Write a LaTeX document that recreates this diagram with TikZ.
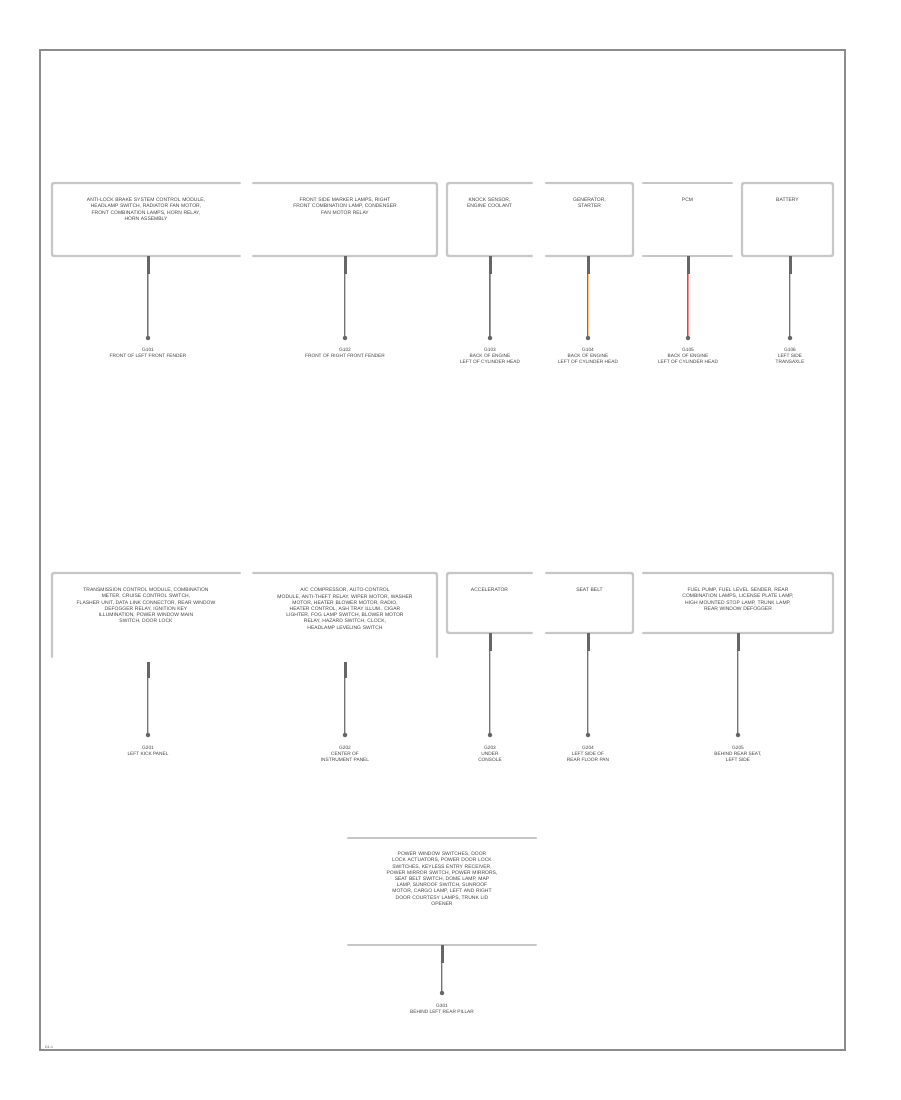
\documentclass[tikz,border=0pt]{standalone}
\usepackage{fontspec}
\setmainfont{Liberation Sans}
\begin{document}
\begin{tikzpicture}[x=1pt,y=-1pt,
  frame/.style={draw=black!45,line width=1.4},
  boxline/.style={draw=black!22,line width=2.4,rounded corners=2,line cap=round},
  area/.style={inner sep=0,outer sep=0,minimum width=#1},
  btext/.style={font=\fontsize{5}{6.2}\selectfont,align=center,text=black!75,anchor=north,inner sep=0},
  gtext/.style={font=\fontsize{4.8}{5.8}\selectfont,align=center,text=black!75,anchor=north,inner sep=0},
  plug/.style={draw=black!60,line width=3},
  wout/.style={draw=black!55,line width=2.2},
  win/.style={draw=#1,line width=0.9},
  gdot/.style={circle,fill=black!60,inner sep=0,minimum size=4.5}]
\useasboundingbox (0,0) rectangle (900,1100);
\draw[frame] (40,50) rectangle (845,1050);
\node[font=\fontsize{3.5}{4}\selectfont,text=black!70,anchor=west,inner sep=0] (tag) at (45,1047) {G1-1};

% ---------- row 1 boxes ----------
\node[area,minimum width=188,minimum height=73] (b1) at (146,219.5) {};
\node[area,minimum width=184,minimum height=73] (b2) at (345,219.5) {};
\node[area,minimum width=85,minimum height=73] (b3) at (489.5,219.5) {};
\node[area,minimum width=87,minimum height=73] (b4) at (589.5,219.5) {};
\node[area,minimum width=89,minimum height=73] (b5) at (687.5,219.5) {};
\node[area,minimum width=91,minimum height=73] (b6) at (787.5,219.5) {};
\draw[boxline] (240,183) -- (52,183) -- (52,256) -- (240,256);
\draw[boxline] (253,183) -- (437,183) -- (437,256) -- (253,256);
\draw[boxline] (532,183) -- (447,183) -- (447,256) -- (532,256);
\draw[boxline] (546,183) -- (633,183) -- (633,256) -- (546,256);
\draw[boxline] (643,183) -- (732,183);
\draw[boxline] (643,256) -- (732,256);
\draw[boxline] (742,183) rectangle (833,256);

\node[btext,text width=170] (t1) at (146,198) {ANTI-LOCK BRAKE SYSTEM CONTROL MODULE,\\ HEADLAMP SWITCH, RADIATOR FAN MOTOR,\\ FRONT COMBINATION LAMPS, HORN RELAY,\\ HORN ASSEMBLY};
\node[btext,text width=170] (t2) at (345,198) {FRONT SIDE MARKER LAMPS, RIGHT\\ FRONT COMBINATION LAMP, CONDENSER\\ FAN MOTOR RELAY};
\node[btext,text width=84] (t3) at (489.5,198) {KNOCK SENSOR,\\ ENGINE COOLANT};
\node[btext,text width=84] (t4) at (589.5,198) {GENERATOR,\\ STARTER};
\node[btext,text width=84] (t5) at (687.5,198) {PCM};
\node[btext,text width=84] (t6) at (787.5,198) {BATTERY};

% ---------- row 1 grounds ----------
\coordinate (g1) at (148,338);
\coordinate (g2) at (345,338);
\coordinate (g3) at (490,338);
\coordinate (g4) at (588,338);
\coordinate (g5) at (688,338);
\coordinate (g6) at (790,338);
\foreach \b/\g/\c in {b1/g1/black!30,b2/g2/black!20,b3/g3/black!40,b4/g4/orange!45,b5/g5/red!45,b6/g6/black!20}{
  \draw[wout] (\b.south -| \g) -- (\g);
  \draw[win=\c] (\b.south -| \g) -- (\g);
  \draw[plug] (\b.south -| \g) -- ++(0,18);
  \node[gdot] at (\g) {};
}
\node[gtext] (l1) at (148,348) {G101\\ FRONT OF LEFT FRONT FENDER};
\node[gtext] (l2) at (345,348) {G102\\ FRONT OF RIGHT FRONT FENDER};
\node[gtext] (l3) at (490,348) {G103\\ BACK OF ENGINE\\ LEFT OF CYLINDER HEAD};
\node[gtext] (l4) at (588,348) {G104\\ BACK OF ENGINE\\ LEFT OF CYLINDER HEAD};
\node[gtext] (l5) at (688,348) {G105\\ BACK OF ENGINE\\ LEFT OF CYLINDER HEAD};
\node[gtext] (l6) at (790,348) {G106\\ LEFT SIDE\\ TRANSAXLE};

% ---------- row 2 boxes ----------
\node[area,minimum width=188,minimum height=84] (c1) at (146,615) {};
\node[area,minimum width=184,minimum height=84] (c2) at (345,615) {};
\node[area,minimum width=85,minimum height=60] (c3) at (489.5,603) {};
\node[area,minimum width=87,minimum height=60] (c4) at (589.5,603) {};
\node[area,minimum width=190,minimum height=60] (c5) at (738,603) {};
\draw[boxline] (240,573) -- (52,573) -- (52,657);
\draw[boxline] (253,573) -- (437,573) -- (437,657);
\draw[boxline] (532,573) -- (447,573) -- (447,633) -- (532,633);
\draw[boxline] (546,573) -- (633,573) -- (633,633) -- (546,633);
\draw[boxline] (643,573) -- (833,573) -- (833,633) -- (643,633);

\node[btext,text width=180] (s1) at (146,588) {TRANSMISSION CONTROL MODULE, COMBINATION\\ METER, CRUISE CONTROL SWITCH,\\ FLASHER UNIT, DATA LINK CONNECTOR, REAR WINDOW\\ DEFOGGER RELAY, IGNITION KEY\\ ILLUMINATION, POWER WINDOW MAIN\\ SWITCH, DOOR LOCK};
\node[btext,text width=180] (s2) at (345,588) {A/C COMPRESSOR, AUTO-CONTROL\\ MODULE, ANTI-THEFT RELAY, WIPER MOTOR, WASHER\\ MOTOR, HEATER BLOWER MOTOR, RADIO,\\ HEATER CONTROL, ASH TRAY ILLUM., CIGAR\\ LIGHTER, FOG LAMP SWITCH, BLOWER MOTOR\\ RELAY, HAZARD SWITCH, CLOCK,\\ HEADLAMP LEVELING SWITCH};
\node[btext,text width=84] (s3) at (489.5,588) {ACCELERATOR};
\node[btext,text width=84] (s4) at (589.5,588) {SEAT BELT};
\node[btext,text width=185] (s5) at (738,588) {FUEL PUMP, FUEL LEVEL SENDER, REAR\\ COMBINATION LAMPS, LICENSE PLATE LAMP,\\ HIGH MOUNTED STOP LAMP, TRUNK LAMP,\\ REAR WINDOW DEFOGGER};

% ---------- row 2 grounds ----------
\coordinate (h1) at (148,735);
\coordinate (h2) at (345,735);
\coordinate (h3) at (490,735);
\coordinate (h4) at (588,735);
\coordinate (h5) at (738,735);
\coordinate (h1s) at (148,662);
\coordinate (h2s) at (345,662);
\foreach \s/\g in {h1s/h1,h2s/h2}{
  \draw[wout] (\s) -- (\g);
  \draw[win=black!20] (\s) -- (\g);
  \draw[plug] (\s) -- ++(0,16);
  \node[gdot] at (\g) {};
}
\foreach \b/\g in {c3/h3,c4/h4,c5/h5}{
  \draw[wout] (\b.south -| \g) -- (\g);
  \draw[win=black!20] (\b.south -| \g) -- (\g);
  \draw[plug] (\b.south -| \g) -- ++(0,18);
  \node[gdot] at (\g) {};
}
\node[gtext] (m1) at (148,746) {G201\\ LEFT KICK PANEL};
\node[gtext] (m2) at (345,746) {G202\\ CENTER OF\\ INSTRUMENT PANEL};
\node[gtext] (m3) at (490,746) {G203\\ UNDER\\ CONSOLE};
\node[gtext] (m4) at (588,746) {G204\\ LEFT SIDE OF\\ REAR FLOOR PAN};
\node[gtext] (m5) at (738,746) {G205\\ BEHIND REAR SEAT,\\ LEFT SIDE};

% ---------- row 3 ----------
\node[area,minimum width=188,minimum height=107] (d1) at (442,891.5) {};
\draw[boxline] (348,838) -- (536,838);
\draw[boxline] (348,945) -- (536,945);
\node[btext,text width=185] (u1) at (442,852) {POWER WINDOW SWITCHES, DOOR\\ LOCK ACTUATORS, POWER DOOR LOCK\\ SWITCHES, KEYLESS ENTRY RECEIVER,\\ POWER MIRROR SWITCH, POWER MIRRORS,\\ SEAT BELT SWITCH, DOME LAMP, MAP\\ LAMP, SUNROOF SWITCH, SUNROOF\\ MOTOR, CARGO LAMP, LEFT AND RIGHT\\ DOOR COURTESY LAMPS, TRUNK LID\\ OPENER};
\coordinate (k1) at (442,993);
\draw[wout] (d1.south -| k1) -- (k1);
\draw[win=black!20] (d1.south -| k1) -- (k1);
\draw[plug] (d1.south -| k1) -- ++(0,18);
\node[gdot] at (k1) {};
\node[gtext] (n1) at (442,1004) {G301\\ BEHIND LEFT REAR PILLAR};
\end{tikzpicture}
\end{document}
